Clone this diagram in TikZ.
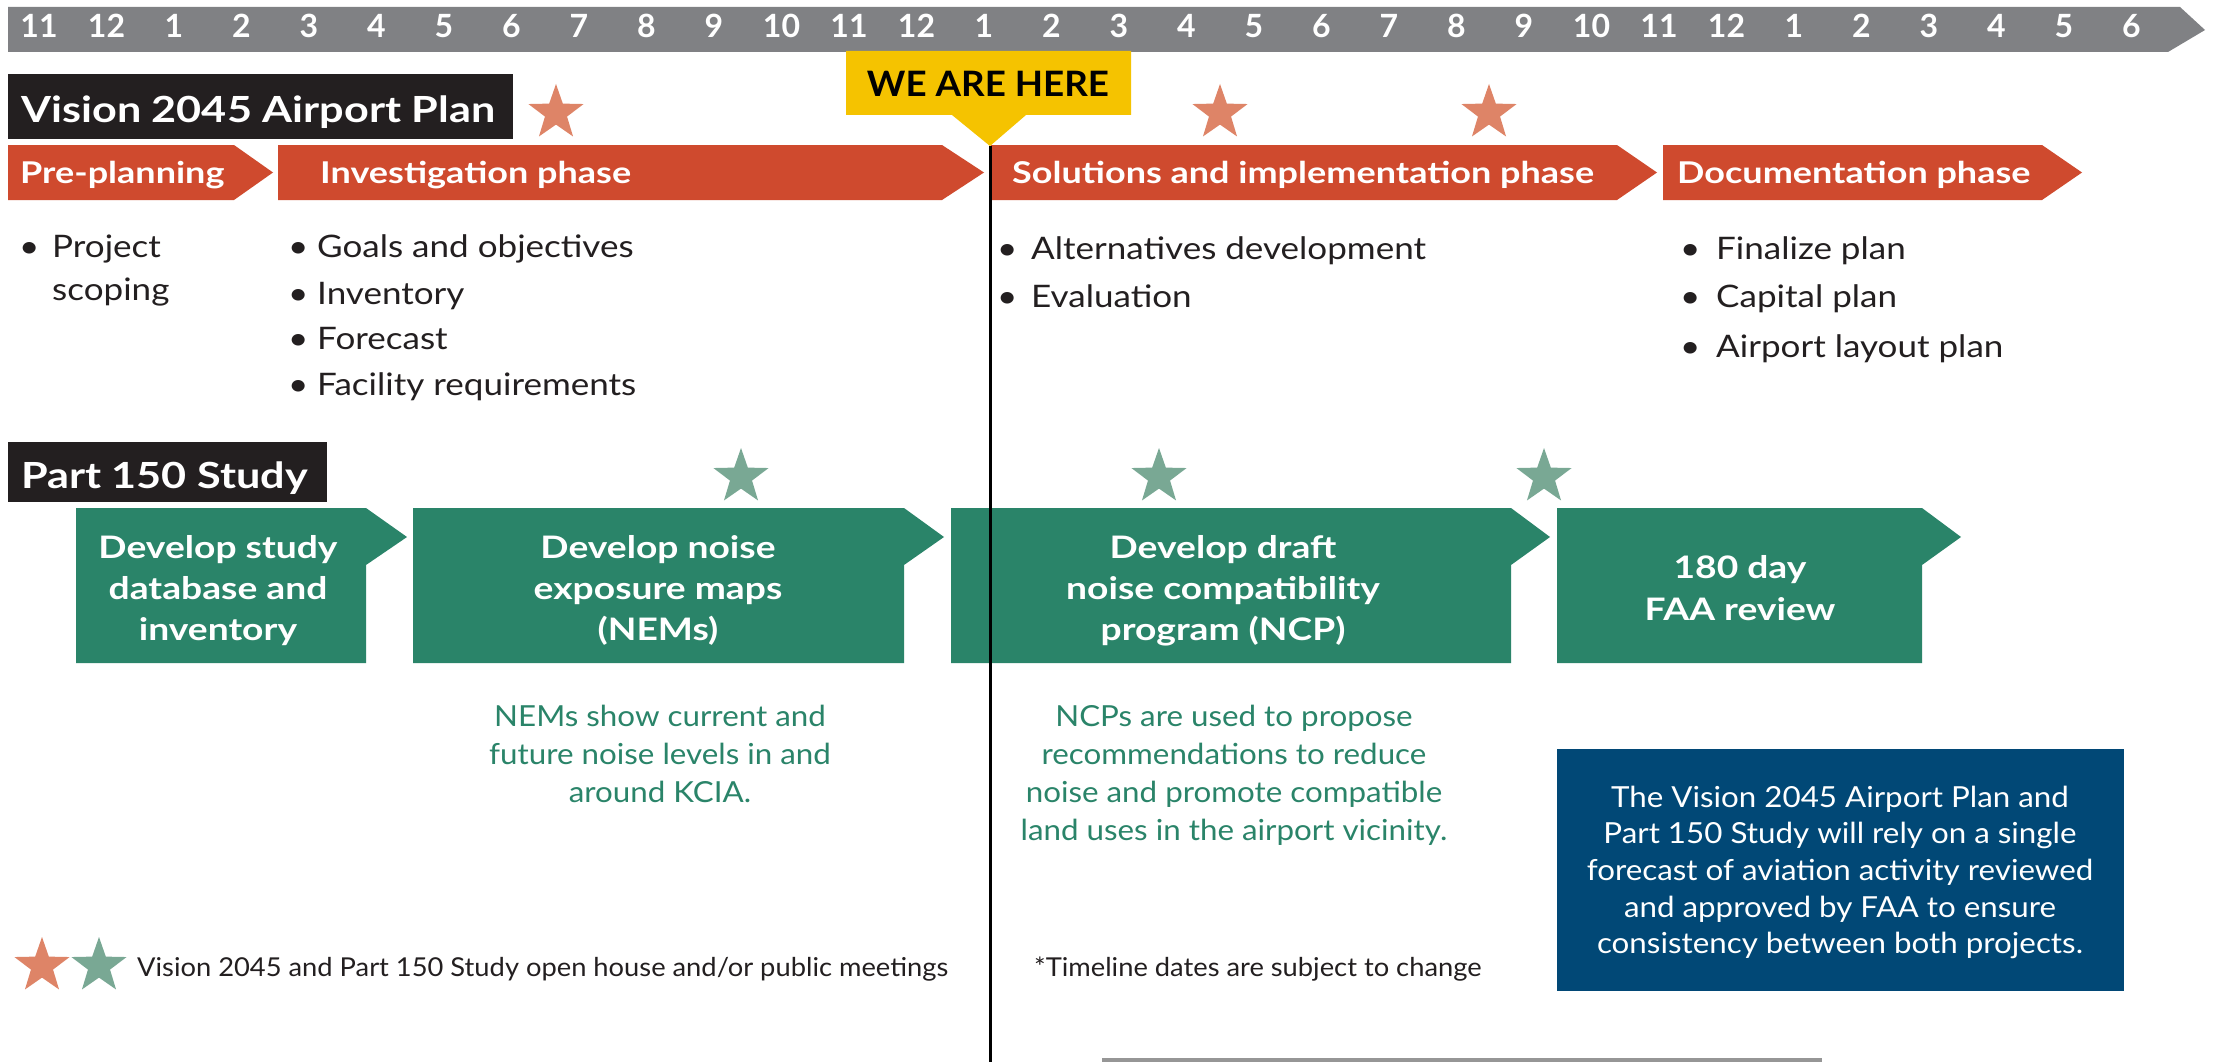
\documentclass[tikz,border=0pt]{standalone}
\usepackage{fontspec}
\setmainfont{Lato}
\newfontfamily\wideA{Lato}[FakeStretch=1.2]
\newfontfamily\wideB{Lato}[FakeStretch=1.13]
\newfontfamily\wideC{Lato}[FakeStretch=1.08]
\newfontfamily\wideD{Lato}[FakeStretch=1.05]
\usetikzlibrary{shapes.geometric}
\definecolor{tlgray}{RGB}{128,129,132}
\definecolor{phasec}{RGB}{207,74,46}
\definecolor{ostarc}{RGB}{222,132,103}
\definecolor{gboxc}{RGB}{42,132,105}
\definecolor{gstarc}{RGB}{121,168,148}
\definecolor{nblue}{RGB}{1,72,118}
\definecolor{wyellow}{RGB}{245,195,0}
\definecolor{tblack}{RGB}{35,31,32}
\definecolor{botgray}{RGB}{150,150,150}
\newcommand\fnt[2]{\fontsize{#1}{#2}\selectfont}
\begin{document}
\begin{tikzpicture}[x=1pt,y=-1pt,
  month/.style={text=white, font=\bfseries\fnt{32}{36}, anchor=base, inner sep=0},
  hdr/.style={text=white, font=\wideA\bfseries\fnt{36}{40}, anchor=base west, inner sep=0},
  phasetxt/.style={text=white, font=\wideA\bfseries\fnt{30}{34}, anchor=base west, inner sep=0},
  bul/.style={text=tblack, font=\wideB\fnt{31}{36}, anchor=base west, inner sep=0},
  gline/.style={text=white, font=\wideA\bfseries\fnt{31}{36}, anchor=base, inner sep=0},
  note/.style={text=gboxc, font=\wideC\fnt{29}{34}, anchor=base, inner sep=0},
  bline/.style={text=white, font=\wideC\fnt{29}{34}, anchor=base, inner sep=0},
  leg/.style={text=tblack, font=\wideD\fnt{26}{30}, anchor=base west, inner sep=0},
  ostar/.style={star, star points=5, star point ratio=2.5, minimum size=58pt, inner sep=0, fill=ostarc},
  gstar/.style={star, star points=5, star point ratio=2.5, minimum size=58pt, inner sep=0, fill=gstarc}]
\useasboundingbox (0,0) rectangle (2221,1062);
\fill[white] (0,0) rectangle (2221,1062);
% timeline bar
\fill[tlgray] (8,7) -- (2180,7) -- (2205,30) -- (2168,52) -- (8,52) -- cycle;
\foreach \m [count=\i from 0] in {11,12,1,2,3,4,5,6,7,8,9,10,11,12,1,2,3,4,5,6,7,8,9,10,11,12,1,2,3,4,5,6}
  \node[month] (m\i) at ({39+67.5*\i},38) {\m};
% we are here
\fill[wyellow] (846,51) -- (1131,51) -- (1131,115) -- (1026,115) -- (990,146) -- (952,115) -- (846,115) -- cycle;
\node[text=black, font=\wideD\bfseries\fnt{35}{40}, anchor=base, inner sep=0] (here) at (988,97) {WE ARE HERE};
% headers
\fill[tblack] (8,74) rectangle (513,139);
\node[hdr] (vision) at (21,123) {Vision 2045 Airport Plan};
\fill[tblack] (8,442) rectangle (327,502);
\node[hdr] (part) at (21,488) {Part 150 Study};
% stars
\node[ostar] (os1) at (556,113) {};
\node[ostar] (os2) at (1220,113) {};
\node[ostar] (os3) at (1489,113) {};
\node[gstar] (gs1) at (741,477) {};
\node[gstar] (gs2) at (1159,477) {};
\node[gstar] (gs3) at (1544,477) {};
% phase chevrons
\fill[phasec] (8,145) -- (234,145) -- (273,172.5) -- (234,200) -- (8,200) -- cycle;
\fill[phasec] (278,145) -- (942,145) -- (984,172.5) -- (942,200) -- (278,200) -- cycle;
\fill[phasec] (991,145) -- (1617,145) -- (1657,172.5) -- (1617,200) -- (991,200) -- cycle;
\fill[phasec] (1663,145) -- (2042,145) -- (2082,172.5) -- (2042,200) -- (1663,200) -- cycle;
\node[phasetxt] (p1) at (20,183) {Pre-planning};
\node[phasetxt] (p2) at (320,183) {Investigation phase};
\node[phasetxt] (p3) at (1012,183) {Solutions and implementation phase};
\node[phasetxt] (p4) at (1677,183) {Documentation phase};
% bullets
\node[bul] (c1b1) at (19,257) {\textbullet};
\node[bul] (c1t1) at (52,257) {Project};
\node[bul] (c1t2) at (52,300) {scoping};
\node[bul] (c2b1) at (288,257) {\textbullet};
\node[bul] (c2t1) at (317,257) {Goals and objectives};
\node[bul] (c2b2) at (288,304) {\textbullet};
\node[bul] (c2t2) at (317,304) {Inventory};
\node[bul] (c2b3) at (288,349) {\textbullet};
\node[bul] (c2t3) at (317,349) {Forecast};
\node[bul] (c2b4) at (288,395) {\textbullet};
\node[bul] (c2t4) at (317,395) {Facility requirements};
\node[bul] (c3b1) at (997,259) {\textbullet};
\node[bul] (c3t1) at (1031,259) {Alternatives development};
\node[bul] (c3b2) at (997,307) {\textbullet};
\node[bul] (c3t2) at (1031,307) {Evaluation};
\node[bul] (c4b1) at (1680,259) {\textbullet};
\node[bul] (c4t1) at (1716,259) {Finalize plan};
\node[bul] (c4b2) at (1680,307) {\textbullet};
\node[bul] (c4t2) at (1716,307) {Capital plan};
\node[bul] (c4b3) at (1680,357) {\textbullet};
\node[bul] (c4t3) at (1716,357) {Airport layout plan};
% green boxes
\fill[gboxc] (76,508) -- (366,508) -- (407,537) -- (366,565) -- (366,663) -- (76,663) -- cycle;
\fill[gboxc] (413,508) -- (904,508) -- (944,537) -- (904,565) -- (904,663) -- (413,663) -- cycle;
\fill[gboxc] (951,508) -- (1511,508) -- (1550,537) -- (1511,565) -- (1511,663) -- (951,663) -- cycle;
\fill[gboxc] (1557,508) -- (1922,508) -- (1961,537) -- (1922,565) -- (1922,663) -- (1557,663) -- cycle;
\node[gline] (g1a) at (218,558) {Develop study};
\node[gline] (g1b) at (218,599) {database and};
\node[gline] (g1c) at (218,640) {inventory};
\node[gline] (g2a) at (658,558) {Develop noise};
\node[gline] (g2b) at (658,599) {exposure maps};
\node[gline] (g2c) at (658,640) {(NEMs)};
\node[gline] (g3a) at (1223,558) {Develop draft};
\node[gline] (g3b) at (1223,599) {noise compatibility};
\node[gline] (g3c) at (1223,640) {program (NCP)};
\node[gline] (g4a) at (1740,578) {180 day};
\node[gline] (g4b) at (1740,620) {FAA review};
% notes
\node[note] (n1a) at (660,726) {NEMs show current and};
\node[note] (n1b) at (660,764) {future noise levels in and};
\node[note] (n1c) at (660,802) {around KCIA.};
\node[note] (n2a) at (1234,726) {NCPs are used to propose};
\node[note] (n2b) at (1234,764) {recommendations to reduce};
\node[note] (n2c) at (1234,802) {noise and promote compatible};
\node[note] (n2d) at (1234,840) {land uses in the airport vicinity.};
% blue box
\fill[nblue] (1557,749) rectangle (2124,991);
\node[bline] (bl1) at (1840,807) {The Vision 2045 Airport Plan and};
\node[bline] (bl2) at (1840,843) {Part 150 Study will rely on a single};
\node[bline] (bl3) at (1840,880) {forecast of aviation activity reviewed};
\node[bline] (bl4) at (1840,917) {and approved by FAA to ensure};
\node[bline] (bl5) at (1840,953) {consistency between both projects.};
% legend
\node[ostar] (ls1) at (42,966) {};
\node[gstar] (ls2) at (99,966) {};
\node[leg] (legt) at (137,976) {Vision 2045 and Part 150 Study open house and/or public meetings};
\node[leg] (disc) at (1034,976) {*Timeline dates are subject to change};
% bottom gray rule
\fill[botgray] (1102,1058) rectangle (1822,1062);
% current-date line
\coordinate (lt) at (990,146);
\coordinate (lb) at (990,1062);
\draw[line width=3pt, black] (lt) -- (lb);
\end{tikzpicture}
\end{document}
